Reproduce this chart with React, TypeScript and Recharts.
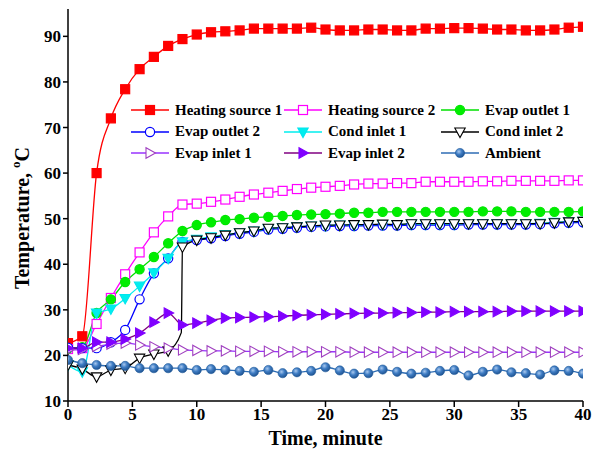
import React from "react";
import { LineChart, Line, XAxis, YAxis, Legend, Label } from "recharts";

// time points (minute)
const time = [0, 1.11, 2.22, 3.33, 4.44, 5.56, 6.67, 7.78, 8.89, 10, 11.11, 12.22, 13.33, 14.44, 15.56, 16.67, 17.78, 18.89, 20, 21.11, 22.22, 23.33, 24.44, 25.56, 26.67, 27.78, 28.89, 30, 31.11, 32.22, 33.33, 34.44, 35.56, 36.67, 37.78, 38.89, 40];

const heatingSource1 = [22.7, 24.2, 60.0, 72.0, 78.4, 82.8, 85.5, 87.9, 89.4, 90.4, 90.9, 91.1, 91.3, 91.7, 91.7, 91.7, 91.7, 91.9, 91.5, 91.3, 91.3, 91.5, 91.5, 91.3, 91.3, 91.7, 91.7, 91.8, 91.8, 91.7, 91.5, 91.5, 91.3, 91.3, 91.5, 91.9, 92.1];
const heatingSource2 = [21.4, 21.6, 26.9, 32.6, 37.8, 42.6, 47.0, 50.5, 53.1, 53.3, 53.7, 54.2, 54.8, 55.3, 55.7, 56.1, 56.5, 56.8, 57.0, 57.2, 57.5, 57.7, 57.7, 57.8, 57.8, 58.1, 58.1, 58.1, 58.1, 58.2, 58.2, 58.3, 58.3, 58.3, 58.3, 58.4, 58.4];
const evapOutlet1 = [21.5, 21.8, 29.3, 32.3, 36.1, 38.9, 41.6, 44.6, 47.3, 48.6, 49.2, 49.7, 49.9, 50.2, 50.4, 50.6, 50.8, 50.9, 51.0, 51.1, 51.3, 51.3, 51.5, 51.5, 51.5, 51.5, 51.5, 51.5, 51.5, 51.6, 51.6, 51.6, 51.5, 51.5, 51.5, 51.5, 51.6];
const evapOutlet2 = [21.7, 21.6, 21.6, 22.9, 25.6, 32.3, 38.0, 41.3, 44.9, 45.3, 45.7, 46.2, 46.7, 47.1, 47.6, 47.8, 48.0, 48.2, 48.3, 48.4, 48.4, 48.5, 48.5, 48.5, 48.6, 48.6, 48.6, 48.6, 48.7, 48.7, 48.7, 48.7, 48.7, 48.8, 49.0, 49.1, 49.2];
const condInlet1 = [17.9, 16.4, 29.3, 30.2, 32.5, 35.2, 38.1, 41.3, 44.9, 45.5, 46.0, 46.5, 46.9, 47.3, 47.8, 48.0, 48.2, 48.4, 48.5, 48.6, 48.6, 48.7, 48.7, 48.7, 48.8, 48.8, 48.8, 48.8, 48.9, 48.9, 48.9, 48.9, 48.9, 49.0, 49.2, 49.3, 49.4];
const condInlet2 = [17.9, 17.0, 15.3, 16.8, 17.2, 19.4, 20.3, 21.0, 43.8, 45.3, 45.8, 46.4, 46.9, 47.3, 47.9, 48.0, 48.2, 48.4, 48.6, 48.6, 48.7, 48.7, 48.8, 48.7, 48.9, 48.9, 48.9, 48.9, 48.9, 48.9, 48.9, 48.9, 48.9, 48.9, 49.1, 49.3, 49.4];
const evapInlet1 = [21.2, 21.3, 22.0, 22.5, 22.7, 22.3, 21.9, 21.6, 21.2, 21.1, 21.0, 21.0, 20.9, 20.9, 20.9, 20.8, 20.8, 20.8, 20.8, 20.8, 20.7, 20.7, 20.7, 20.7, 20.7, 20.7, 20.7, 20.7, 20.7, 20.7, 20.7, 20.7, 20.7, 20.7, 20.7, 20.7, 20.7];
const evapInlet2 = [21.6, 21.6, 22.9, 22.9, 23.6, 24.9, 27.3, 29.3, 26.7, 27.1, 27.7, 28.2, 28.3, 28.4, 28.5, 28.6, 28.8, 28.9, 29.0, 29.1, 29.2, 29.3, 29.3, 29.4, 29.4, 29.5, 29.5, 29.6, 29.6, 29.6, 29.6, 29.7, 29.7, 29.7, 29.7, 29.7, 29.7];
const ambient = [19.0, 18.3, 17.9, 17.7, 17.7, 17.2, 17.2, 17.2, 17.2, 16.8, 17.0, 16.8, 16.6, 16.4, 16.8, 16.1, 16.3, 16.6, 17.4, 16.7, 16.0, 16.1, 16.9, 16.4, 16.0, 16.2, 16.6, 16.8, 15.6, 16.4, 16.9, 16.3, 16.1, 15.8, 16.7, 16.6, 16.0];

// cond inlet 2 jumps almost vertically just before 8.89 min
const condInlet2Jump = { t: 8.8, value: 25 };

const xTicks = [0, 5, 10, 15, 20, 25, 30, 35, 40];
const yTicks = [10, 20, 30, 40, 50, 60, 70, 80, 90];

const FONT = "Liberation Serif";

const series = [
  { key: "hs1", name: "Heating source 1", values: heatingSource1, color: "#ff0000", kind: "square", mStroke: "#ff0000", mFill: "#ff0000" },
  { key: "hs2", name: "Heating source 2", values: heatingSource2, color: "#ff00ff", kind: "square", mStroke: "#ff00ff", mFill: "#ffffff" },
  { key: "eo1", name: "Evap outlet 1", values: evapOutlet1, color: "#00e000", kind: "circle", mStroke: "#00e600", mFill: "#00ee00" },
  { key: "eo2", name: "Evap outlet 2", values: evapOutlet2, color: "#0000ff", kind: "circle", mStroke: "#0000ff", mFill: "#ffffff" },
  { key: "ci1", name: "Cond inlet 1", values: condInlet1, color: "#00eeee", kind: "down", mStroke: "#00e5ee", mFill: "#00eeee" },
  { key: "ci2", name: "Cond inlet 2", values: condInlet2, color: "#000000", kind: "down", mStroke: "#000000", mFill: "#ffffff" },
  { key: "ei1", name: "Evap inlet 1", values: evapInlet1, color: "#9933ff", kind: "right", mStroke: "#a040c0", mFill: "#ffffff" },
  { key: "ei2", name: "Evap inlet 2", values: evapInlet2, color: "#800080", kind: "right", mStroke: "#8000ff", mFill: "#8000ff" },
  { key: "amb", name: "Ambient", values: ambient, color: "#2e6db4", kind: "ball", mStroke: "#1f5a9c", mFill: "url(#ballFill)" },
];

const data: any[] = time.map((t, i) => {
  const row: any = { t };
  series.forEach((s) => (row[s.key] = s.values[i]));
  return row;
});
data.splice(8, 0, { t: condInlet2Jump.t, ci2: condInlet2Jump.value, aux: true });

function Marker({ cx, cy, kind, stroke, fill }: any) {
  if (kind === "square")
    return <rect x={cx - 4.5} y={cy - 4.5} width={9} height={9} stroke={stroke} strokeWidth={1.2} fill={fill} />;
  if (kind === "circle")
    return <circle cx={cx} cy={cy} r={4.6} stroke={stroke} strokeWidth={1.2} fill={fill} />;
  if (kind === "down")
    return <polygon points={`${cx - 5.2},${cy - 4} ${cx + 5.2},${cy - 4} ${cx},${cy + 5.5}`} stroke={stroke} strokeWidth={1.1} fill={fill} />;
  if (kind === "right")
    return <polygon points={`${cx - 4},${cy - 5.2} ${cx - 4},${cy + 5.2} ${cx + 5.5},${cy}`} stroke={stroke} strokeWidth={1.1} fill={fill} />;
  return <circle cx={cx} cy={cy} r={4.6} stroke={stroke} strokeWidth={0.6} fill={fill} />;
}

function renderLegend() {
  const cols = [0, 153, 310];
  return (
    <div style={{ position: "relative", width: 460, height: 66, fontFamily: FONT, fontWeight: "bold", fontSize: 15, color: "#000" }}>
      {series.map((s, i) => (
        <div
          key={s.key}
          style={{ position: "absolute", left: cols[i % 3], top: Math.floor(i / 3) * 21.5, height: 22, display: "flex", alignItems: "center", whiteSpace: "nowrap" }}
        >
          <svg width={42} height={14} style={{ marginRight: 3 }}>
            <line x1={1} y1={7} x2={39} y2={7} stroke={s.color} strokeWidth={1.3} />
            <Marker cx={20} cy={7} kind={s.kind} stroke={s.mStroke} fill={s.mFill} />
          </svg>
          <span>{s.name}</span>
        </div>
      ))}
    </div>
  );
}

function YTitle() {
  const x = 22;
  const y = 218;
  return (
    <text x={x} y={y} transform={`rotate(-90 ${x} ${y})`} textAnchor="middle" dominantBaseline="central" fontFamily={FONT} fontWeight="bold" fontSize={20} fill="#000">
      Temperature,{" "}
      <tspan dy={-7} fontSize={13}>o</tspan>
      <tspan dy={7}>C</tspan>
    </text>
  );
}

const tickStyle = { fontFamily: FONT, fontWeight: "bold", fontSize: 17, fill: "#000" };

export default function App() {
  return (
    <div style={{ position: "absolute", left: 0, top: 0, background: "#fff" }}>
      <LineChart width={602} height={453} data={data} margin={{ top: 9, right: 19, bottom: 0, left: 0 }}>
        <defs>
          <radialGradient id="ballFill" cx="0.38" cy="0.35" r="0.7">
            <stop offset="0%" stopColor="#a9c8ee" />
            <stop offset="45%" stopColor="#3f7dc4" />
            <stop offset="100%" stopColor="#1d4f8c" />
          </radialGradient>
        </defs>
        <XAxis
          dataKey="t"
          type="number"
          domain={[0, 40]}
          ticks={xTicks}
          height={52}
          tickSize={6}
          tickMargin={1}
          tick={tickStyle}
          stroke="#000"
          strokeWidth={1.5}
          allowDataOverflow
        >
          <Label value="Time, minute" position="insideBottom" offset={8} style={{ fontFamily: FONT, fontWeight: "bold", fontSize: 20, fill: "#000" }} />
        </XAxis>
        <XAxis xAxisId="top" orientation="top" type="number" domain={[0, 40]} height={0} tick={false} tickLine={false} stroke="#000" strokeWidth={1.5} />
        <YAxis
          type="number"
          domain={[10, 96]}
          ticks={yTicks}
          width={68}
          tickSize={5}
          tickMargin={2}
          tick={tickStyle}
          stroke="#000"
          strokeWidth={1.5}
          allowDataOverflow
        >
          <Label content={<YTitle />} />
        </YAxis>
        <YAxis yAxisId="right" orientation="right" type="number" domain={[10, 96]} width={0} tick={false} tickLine={false} stroke="#000" strokeWidth={1.5} />
        <Legend
          layout="horizontal"
          verticalAlign="middle"
          align="center"
          content={renderLegend}
          wrapperStyle={{ top: 99, left: 130, width: 460, height: 66 }}
        />
        {series.map((s) => (
          <Line
            key={s.key}
            dataKey={s.key}
            name={s.name}
            type="monotone"
            stroke={s.color}
            strokeWidth={1.3}
            connectNulls
            isAnimationActive={false}
            dot={(p: any) => {
              if (p.cx == null || p.cy == null || p.value == null || (p.payload && p.payload.aux))
                return <g key={`${s.key}-${p.index}`} />;
              return (
                <g key={`${s.key}-${p.index}`}>
                  <Marker cx={p.cx} cy={p.cy} kind={s.kind} stroke={s.mStroke} fill={s.mFill} />
                </g>
              );
            }}
            activeDot={false}
          />
        ))}
      </LineChart>
    </div>
  );
}
